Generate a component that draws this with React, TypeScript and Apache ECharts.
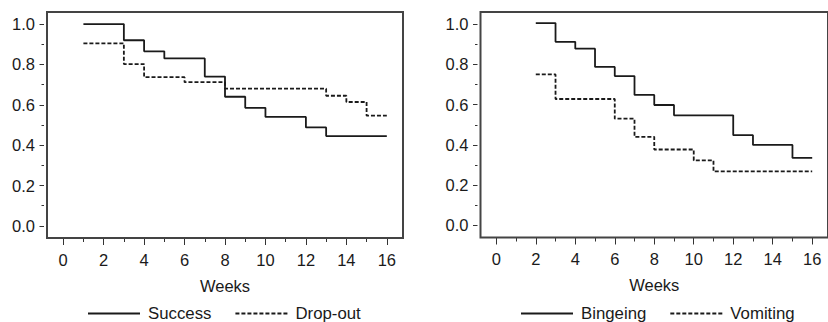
import React, { useEffect, useRef } from "react";
import * as echarts from "echarts";

// Left panel: Success vs Drop-out (Kaplan-Meier style step curves)
const successData: [number, number][] = [
  [1, 1.0], [3, 0.92], [4, 0.865], [5, 0.83], [7, 0.74], [8, 0.64],
  [9, 0.585], [10, 0.54], [12, 0.488], [13, 0.445], [16, 0.445],
];
const dropoutData: [number, number][] = [
  [1, 0.905], [3, 0.802], [4, 0.737], [6, 0.712], [8, 0.68],
  [13, 0.645], [14, 0.614], [15, 0.546], [16, 0.546],
];
// Right panel: Bingeing vs Vomiting
const bingeingData: [number, number][] = [
  [2, 1.005], [3, 0.912], [4, 0.878], [5, 0.787], [6, 0.742], [7, 0.648],
  [8, 0.598], [9, 0.547], [12, 0.448], [13, 0.4], [15, 0.335], [16, 0.335],
];
const vomitingData: [number, number][] = [
  [2, 0.75], [3, 0.628], [6, 0.53], [7, 0.44], [8, 0.377],
  [10, 0.323], [11, 0.268], [16, 0.268],
];

const xMajorTicks = [0, 2, 4, 6, 8, 10, 12, 14, 16];
const xMinorTicks = [1, 3, 5, 7, 9, 11, 13, 15];
const yMajorTicks = [0, 0.2, 0.4, 0.6, 0.8, 1.0];
const yMinorTicks = [0.1, 0.3, 0.5, 0.7, 0.9];

const xTitle = "Weeks";
const leftNames = ["Success", "Drop-out"];
const rightNames = ["Bingeing", "Vomiting"];

const FONT = "'Liberation Sans', Arial, Helvetica, sans-serif";
const INK = "#1a1a1a";
const FRAME = "#444";
const FS = 16.5;
const X_MIN = -0.8, X_MAX = 16.8, Y_MIN = -0.06, Y_MAX = 1.06;

export default function App() {
  const ref = useRef<HTMLDivElement>(null);
  useEffect(() => {
    if (!ref.current) return;
    const chart = echarts.init(ref.current, null, { renderer: "svg" });

    const grids = [
      { left: 47, top: 12, width: 356, height: 226, show: true, borderColor: FRAME, borderWidth: 1 },
      { left: 480.5, top: 12, width: 356, height: 225.5, show: true, borderColor: FRAME, borderWidth: 1 },
    ];

    const noLine = { show: false, onZero: false };
    const xAxes: any[] = [];
    const yAxes: any[] = [];
    [0, 1].forEach((g) => {
      const xb = { type: "value", gridIndex: g, min: X_MIN, max: X_MAX, splitLine: { show: false } };
      const yb = { type: "value", gridIndex: g, min: Y_MIN, max: Y_MAX, splitLine: { show: false } };
      // major x ticks + labels + title
      xAxes.push({
        ...xb, position: "bottom",
        name: xTitle, nameLocation: "middle", nameGap: 39, nameMoveOverlap: false,
        nameTextStyle: { fontFamily: FONT, fontSize: FS, color: INK },
        axisLine: noLine,
        axisTick: { show: true, length: 7, inside: false, customValues: xMajorTicks, lineStyle: { color: "#333", width: 1 } },
        axisLabel: { show: true, margin: 13, customValues: xMajorTicks, fontFamily: FONT, fontSize: FS, color: INK },
      });
      // minor x ticks
      xAxes.push({
        ...xb, position: "bottom",
        axisLine: noLine,
        axisTick: { show: true, length: 4, inside: false, customValues: xMinorTicks, lineStyle: { color: "#333", width: 1 } },
        axisLabel: { show: false },
      });
      // major y ticks + labels
      yAxes.push({
        ...yb, position: "left", offset: 3,
        axisLine: noLine,
        axisTick: { show: true, length: 4.5, customValues: yMajorTicks, lineStyle: { color: "#333", width: 1 } },
        axisLabel: {
          show: true, margin: 9, customValues: yMajorTicks, fontFamily: FONT, fontSize: FS, color: INK,
          formatter: (v: number) => v.toFixed(1),
        },
      });
      // minor y ticks
      yAxes.push({
        ...yb, position: "left", offset: 3,
        axisLine: noLine,
        axisTick: { show: true, length: 2.5, customValues: yMinorTicks, lineStyle: { color: "#333", width: 1 } },
        axisLabel: { show: false },
      });
    });

    const solid = { color: INK, width: 1.8, type: "solid" as const };
    const dashed = { color: INK, width: 1.8, type: [4, 2] as any };

    const mk = (name: string, data: [number, number][], xi: number, yi: number, ls: any) => ({
      name, type: "line", step: "end", data, xAxisIndex: xi, yAxisIndex: yi,
      symbol: "none", showSymbol: false, lineStyle: ls, itemStyle: { color: INK }, silent: true,
    });

    const legendCommon = {
      top: 300, padding: 5, itemWidth: 52, itemHeight: 14, itemGap: 23,
      itemStyle: { opacity: 0 },
      textStyle: { fontFamily: FONT, fontSize: 16.8, color: INK, padding: [0, 0, 0, 3] },
      selectedMode: false,
    };

    chart.setOption({
      animation: false,
      backgroundColor: "#fff",
      grid: grids,
      xAxis: xAxes,
      yAxis: yAxes,
      legend: [
        { ...legendCommon, left: 82, data: leftNames },
        { ...legendCommon, left: 515, data: rightNames },
      ],
      series: [
        mk(leftNames[0], successData, 0, 0, solid),
        mk(leftNames[1], dropoutData, 0, 0, dashed),
        mk(rightNames[0], bingeingData, 2, 2, solid),
        mk(rightNames[1], vomitingData, 2, 2, dashed),
      ],
    });

    // Plot frames, derived from each grid's own scales
    const frames: any[] = [];
    [[0, 0], [2, 2]].forEach(([xi, yi]) => {
      const a = chart.convertToPixel({ xAxisIndex: xi, yAxisIndex: yi } as any, [X_MIN, Y_MAX]) as number[];
      const b = chart.convertToPixel({ xAxisIndex: xi, yAxisIndex: yi } as any, [X_MAX, Y_MIN]) as number[];
      if (!a || !b) return;
      frames.push({
        type: "rect", silent: true, z: 10,
        shape: { x: a[0], y: a[1], width: b[0] - a[0], height: b[1] - a[1] },
        style: { fill: "none", stroke: FRAME, lineWidth: 2 },
      });
    });
    chart.setOption({ graphic: frames });

    return () => chart.dispose();
  }, []);
  return (
    <div
      ref={ref}
      style={{ position: "absolute", left: 0, top: 0, width: 828, height: 322, background: "#fff" }}
    />
  );
}
